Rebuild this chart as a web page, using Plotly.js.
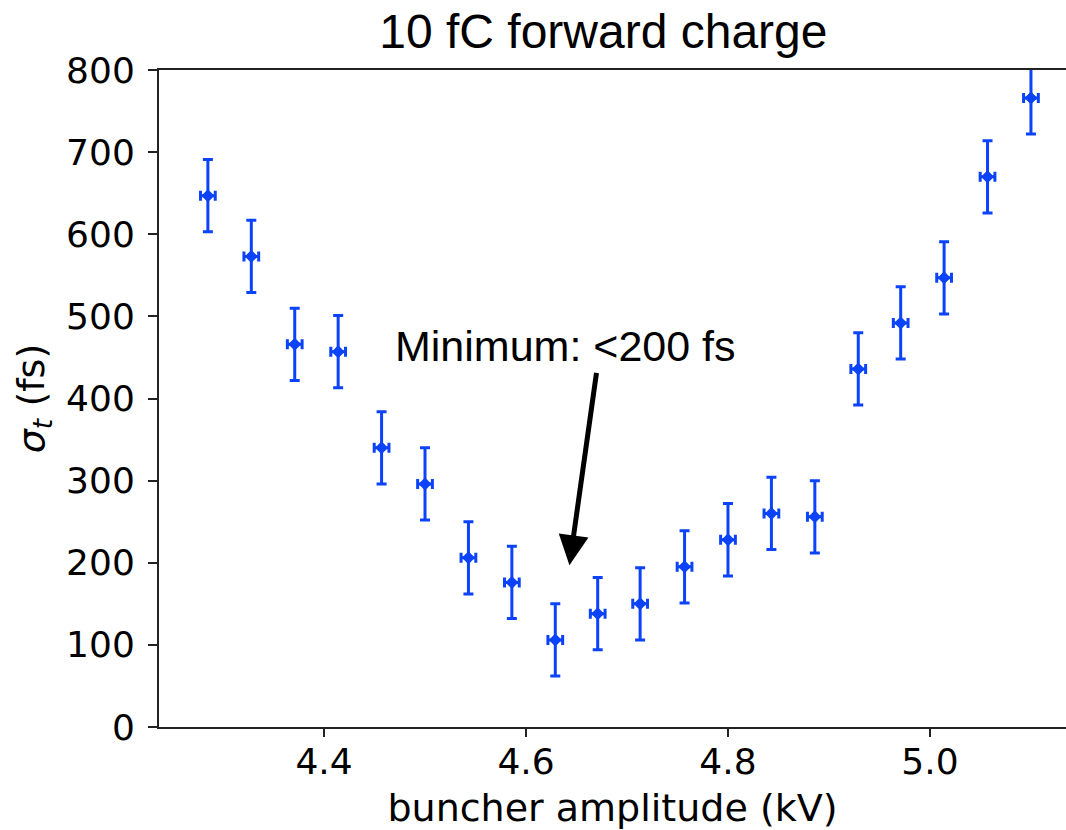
<!DOCTYPE html>
<html>
<head>
<meta charset="utf-8">
<script src="https://cdn.plot.ly/plotly-3.0.1.min.js"></script>
<style>
  html, body { margin: 0; padding: 0; background: #fff; }
  #chart { width: 1066px; height: 830px; }
</style>
</head>
<body>
<div id="chart"></div>
<script>
// buncher amplitude (kV)
const amplitude = [4.285, 4.328, 4.371, 4.414, 4.457, 4.500, 4.543, 4.586, 4.629, 4.671,
                   4.713, 4.757, 4.800, 4.843, 4.886, 4.929, 4.971, 5.014, 5.057, 5.100];
// sigma_t (fs)
const sigmaT = [647, 573, 466, 457, 340, 296, 206, 176, 106, 138,
                150, 195, 228, 260, 256, 436, 492, 547, 670, 766];
// error bars
const sigmaErr = [44, 44, 44, 44, 44, 44, 44, 44, 44, 44,
                  44, 44, 44, 44, 44, 44, 44, 44, 44, 44];
const ampErr = [0.0073, 0.0073, 0.0073, 0.0073, 0.0073, 0.0073, 0.0073, 0.0073, 0.0073, 0.0073,
                0.0073, 0.0073, 0.0073, 0.0073, 0.0073, 0.0073, 0.0073, 0.0073, 0.0073, 0.0073];
const xTicks = [4.4, 4.6, 4.8, 5.0];
const yTicks = [0, 100, 200, 300, 400, 500, 600, 700, 800];

const blue = '#0b43fa';

const trace = {
  x: amplitude,
  y: sigmaT,
  type: 'scatter',
  mode: 'markers',
  marker: { symbol: 'diamond', size: 10, color: blue },
  error_y: { type: 'data', array: sigmaErr, visible: true, color: blue, thickness: 3, width: 5 },
  error_x: { type: 'data', array: ampErr, visible: true, color: blue, thickness: 3, width: 5 },
  showlegend: false,
  hoverinfo: 'x+y'
};

const tickFont = { family: 'DejaVu Sans', size: 36, color: '#000' };

const layout = {
  width: 1066,
  height: 830,
  margin: { l: 159, r: 0, t: 70, b: 103, pad: 0 },
  paper_bgcolor: '#fff',
  plot_bgcolor: '#fff',
  title: {
    text: '10 fC forward charge',
    font: { family: 'Liberation Sans', size: 48, color: '#000' },
    x: 0.566, xref: 'container', xanchor: 'center',
    y: 0.962, yref: 'container', yanchor: 'middle'
  },
  xaxis: {
    range: [4.2366, 5.1347],
    tickvals: xTicks,
    ticktext: xTicks.map(v => v.toFixed(1)),
    ticks: 'outside', ticklen: 8, tickwidth: 2, tickcolor: '#222',
    showline: true, linecolor: '#222', linewidth: 2, mirror: true,
    showgrid: false, zeroline: false,
    tickfont: tickFont,
    ticklabelstandoff: -6,
    title: { text: 'buncher amplitude (kV)', font: { family: 'DejaVu Sans', size: 38, color: '#000' }, standoff: 14 },
    automargin: false
  },
  yaxis: {
    range: [0, 800],
    tickvals: yTicks,
    ticks: 'outside', ticklen: 9, tickwidth: 2, tickcolor: '#222',
    showline: true, linecolor: '#222', linewidth: 2, mirror: false,
    showgrid: false, zeroline: false,
    tickfont: tickFont,
    ticklabelstandoff: 6,
    title: { text: '<i>σ</i><sub><i>t</i></sub> (fs)', font: { family: 'DejaVu Sans', size: 38, color: '#000' }, standoff: 10 },
    automargin: false
  },
  annotations: [
    {
      x: 4.643, y: 197, xref: 'x', yref: 'y',
      ax: 4.670, ay: 433, axref: 'x', ayref: 'y',
      text: '', showarrow: true,
      arrowhead: 2, arrowsize: 1.2, arrowwidth: 5, arrowcolor: '#000', standoff: 0
    },
    {
      x: 4.639, y: 464, xref: 'x', yref: 'y',
      text: 'Minimum: <200 fs', showarrow: false,
      xanchor: 'center', yanchor: 'middle',
      font: { family: 'Liberation Sans', size: 43, color: '#000' }
    }
  ]
};

Plotly.newPlot('chart', [trace], layout, { displayModeBar: false, staticPlot: true });
</script>
</body>
</html>
